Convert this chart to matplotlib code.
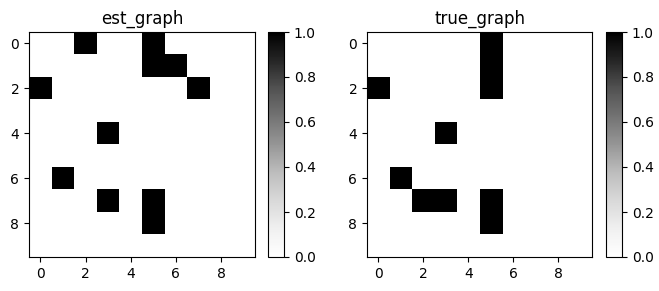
import numpy as np
import matplotlib
matplotlib.use("Agg")
import matplotlib.pyplot as plt

n = 10
# (row, col) cells that are 1
est_edges = [(0, 2), (0, 5), (1, 5), (1, 6), (2, 0), (2, 7),
             (4, 3), (6, 1), (7, 3), (7, 5), (8, 5)]
true_edges = [(0, 5), (1, 5), (2, 5), (2, 0), (4, 3), (6, 1),
              (7, 2), (7, 3), (7, 5), (8, 5)]
titles = ["est_graph", "true_graph"]


def to_matrix(edges):
    m = np.zeros((n, n))
    for r, c in edges:
        m[r, c] = 1
    return m


W, H = 659, 291
fig = plt.figure(figsize=(W / 100, H / 100), dpi=100)

# pixel boxes: (left, top, right, bottom)
ax_boxes = [(29, 32, 255, 257), (367, 32, 592, 257)]
cb_boxes = [(268, 32, 284, 257), (606, 32, 622, 257)]


def rect(b):
    l, t, r, btm = b
    return [l / W, 1 - btm / H, (r - l) / W, (btm - t) / H]


for mat_edges, title, ab, cbb in zip([est_edges, true_edges], titles,
                                    ax_boxes, cb_boxes):
    ax = fig.add_axes(rect(ab))
    cax = fig.add_axes(rect(cbb))
    im = ax.imshow(to_matrix(mat_edges), cmap="Greys", vmin=0, vmax=1,
                   aspect="auto")
    ax.set_title(title)
    fig.colorbar(im, cax=cax)

fig.savefig("out.png", dpi=100)
